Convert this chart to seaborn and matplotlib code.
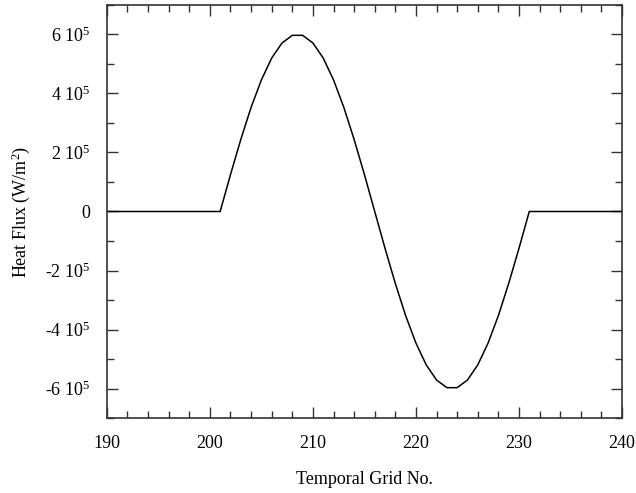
import numpy as np
import pandas as pd
import matplotlib
matplotlib.use("Agg")
import matplotlib.pyplot as plt
import seaborn as sns
from matplotlib.ticker import MultipleLocator

# Data (temporal grid no. vs heat flux, W/m^2)
grid_no = list(range(190, 241))
flux_pulse = [0.0, 1.25e5, 2.44e5, 3.53e5, 4.46e5, 5.20e5, 5.71e5, 5.97e5,
              5.97e5, 5.71e5, 5.20e5, 4.46e5, 3.53e5, 2.44e5, 1.25e5, 0.0,
              -1.25e5, -2.44e5, -3.53e5, -4.46e5, -5.20e5, -5.71e5, -5.97e5,
              -5.97e5, -5.71e5, -5.20e5, -4.46e5, -3.53e5, -2.44e5, -1.25e5, 0.0]
heat_flux = [0.0] * 11 + flux_pulse + [0.0] * 9

y_ticks = [-6e5, -4e5, -2e5, 0, 2e5, 4e5, 6e5]
y_tick_labels = [r"-6 10$^{5}$", r"-4 10$^{5}$", r"-2 10$^{5}$", "0",
                 r"2 10$^{5}$", r"4 10$^{5}$", r"6 10$^{5}$"]
x_ticks = [190, 200, 210, 220, 230, 240]

df = pd.DataFrame({"grid": grid_no, "flux": heat_flux})

sns.set_style("ticks")
plt.rcParams["font.family"] = ["Liberation Serif", "DejaVu Serif"]
plt.rcParams["mathtext.fontset"] = "custom"
plt.rcParams["mathtext.rm"] = "Liberation Serif"
plt.rcParams["mathtext.it"] = "Liberation Serif:italic"
plt.rcParams["text.color"] = "black"
plt.rcParams["axes.labelcolor"] = "black"
plt.rcParams["xtick.labelcolor"] = "black"
plt.rcParams["ytick.labelcolor"] = "black"

fig = plt.figure(figsize=(6.36, 4.93), dpi=100)
ax = fig.add_axes([0.168, 0.152, 0.810, 0.838])

sns.lineplot(data=df, x="grid", y="flux", color="black", linewidth=1.1, ax=ax)

ax.set_xlim(190, 240)
ax.set_ylim(-7e5, 7e5)
ax.set_xticks(x_ticks)
ax.set_xticklabels([str(t) for t in x_ticks])
ax.set_yticks(y_ticks)
ax.set_yticklabels(y_tick_labels)
ax.xaxis.set_minor_locator(MultipleLocator(2))
ax.yaxis.set_minor_locator(MultipleLocator(1e5))

ax.tick_params(which="both", direction="in", top=True, right=True,
               labelsize=13, color="#333333", width=1)
ax.tick_params(which="major", length=8, pad=12)
ax.tick_params(which="minor", length=5)
for s in ax.spines.values():
    s.set_linewidth(1.2)
    s.set_color("#333333")

ax.set_xlabel("Temporal Grid No.", fontsize=13, labelpad=14)
ax.set_ylabel("Heat Flux (W/m$^{2}$)", fontsize=13, labelpad=9)

fig.savefig("out.png", dpi=100)
